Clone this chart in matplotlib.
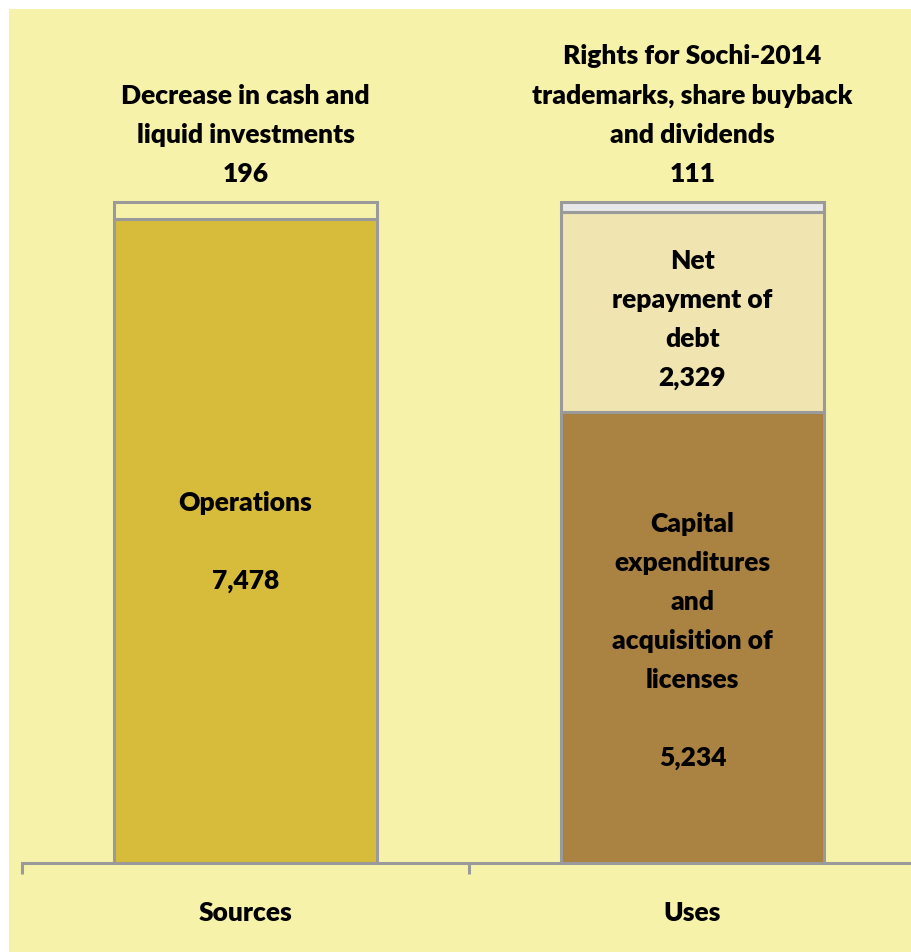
import matplotlib.pyplot as plt
from matplotlib.patches import Rectangle

# data
categories = ['Sources', 'Uses']
operations = [7478, 0]
cash_decrease = [196, 0]
capex = [0, 5234]
debt_repay = [0, 2329]
rights_buyback = [0, 111]

bg = '#F7F2AA'
edge = '#9A9A9A'

plt.rcParams['font.family'] = ['Lato', 'DejaVu Sans']
plt.rcParams['font.weight'] = 'bold'

fig = plt.figure(figsize=(9.12, 9.53), dpi=100, facecolor='white')
fig.patches.append(Rectangle((9 / 912, 0), 1, 1 - 10 / 953, transform=fig.transFigure,
                             facecolor=bg, edgecolor='none', zorder=-10))

ax = fig.add_axes([22 / 912, 1 - 864 / 953, 894 / 912, (864 - 10) / 953])
ax.set_facecolor('none')

x = [0, 1]
w = 0.59
kw = dict(width=w, edgecolor=edge, linewidth=2.2)
# sources stack
ax.bar(x[0], operations[0], color='#D6BC3A', **kw)
ax.bar(x[0], cash_decrease[0], bottom=operations[0], color=bg, **kw)
# uses stack
ax.bar(x[1], capex[1], color='#AA8241', **kw)
ax.bar(x[1], debt_repay[1], bottom=capex[1], color='#F0E5B0', **kw)
ax.bar(x[1], rights_buyback[1], bottom=capex[1] + debt_repay[1], color='#E8E8EA', **kw)

total = operations[0] + cash_decrease[0]
ax.set_ylim(0, total * 854 / 661)
ax.set_xlim(-0.5, 1.5)

fs = 19
ls = 1.75
tkw = dict(ha='center', fontsize=fs, linespacing=ls, fontweight='heavy')
ax.text(x[0], operations[0] / 2, f'Operations\n\n{operations[0]:,}', va='center', **tkw)
ax.text(x[0], total + 200, f'Decrease in cash and\nliquid investments\n{cash_decrease[0]:,}',
        va='bottom', **tkw)
ax.text(x[1], capex[1] / 2 - 30, f'Capital\nexpenditures\nand\nacquisition of\nlicenses\n\n{capex[1]:,}',
        va='center', **tkw)
ax.text(x[1], capex[1] + debt_repay[1] / 2 - 80, f'Net\nrepayment of\ndebt\n{debt_repay[1]:,}',
        va='center', **tkw)
ax.text(x[1], total + 200, f'Rights for Sochi-2014\ntrademarks, share buyback\nand dividends\n{rights_buyback[1]:,}',
        va='bottom', **tkw)

for s in ['top', 'right', 'left']:
    ax.spines[s].set_visible(False)
ax.spines['bottom'].set_color(edge)
ax.spines['bottom'].set_linewidth(2.2)
ax.set_yticks([])
ax.set_xticks(x, categories, fontsize=fs, fontweight='heavy')
ax.tick_params(axis='x', which='major', length=0, pad=27)
ax.set_xticks([-0.5, 0.5, 1.5], minor=True)
ax.tick_params(axis='x', which='minor', length=8, width=2.2, color=edge, direction='out')

fig.savefig('out.png', dpi=100, facecolor='white')
